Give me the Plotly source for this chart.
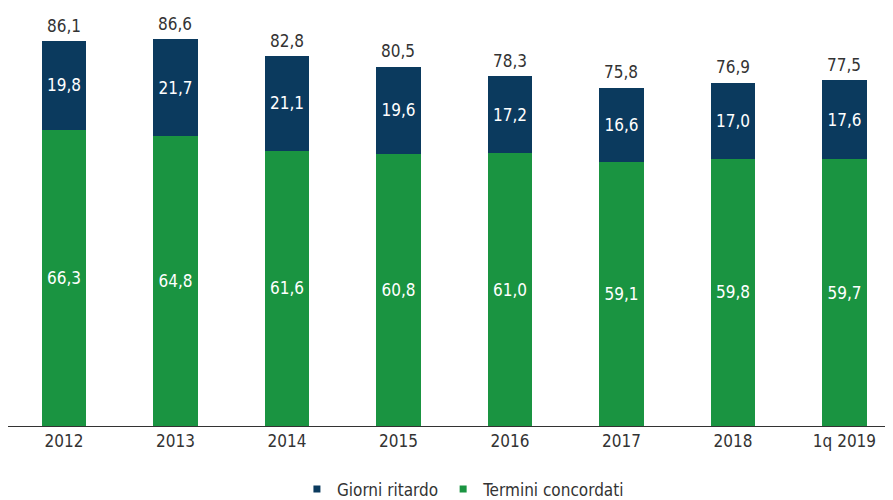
import plotly.graph_objects as go

categories = ["2012", "2013", "2014", "2015", "2016", "2017", "2018", "1q 2019"]
termini_concordati = [66.3, 64.8, 61.6, 60.8, 61.0, 59.1, 59.8, 59.7]
giorni_ritardo = [19.8, 21.7, 21.1, 19.6, 17.2, 16.6, 17.0, 17.6]
totali = [86.1, 86.6, 82.8, 80.5, 78.3, 75.8, 76.9, 77.5]

GREEN = "#1a9441"
NAVY = "#0b3a5e"
FONT = "Liberation Sans Narrow, Arial Narrow, DejaVu Sans Condensed, sans-serif"

def fmt(v):
    return f"{v:.1f}".replace(".", ",")

def tf(color, size=17):
    return dict(color=color, size=size, family=FONT)

fig = go.Figure()
fig.add_trace(go.Bar(
    x=categories, y=termini_concordati, name="Termini concordati",
    marker=dict(color=GREEN, line=dict(width=0)),
    text=[fmt(v) for v in termini_concordati], textposition="inside",
    insidetextanchor="middle", textfont=tf("white"),
    hoverinfo="skip", showlegend=False,
))
fig.add_trace(go.Bar(
    x=categories, y=giorni_ritardo, name="Giorni ritardo",
    marker=dict(color=NAVY, line=dict(width=0)),
    text=[fmt(v) for v in giorni_ritardo], textposition="inside",
    insidetextanchor="middle", textfont=tf("white"),
    hoverinfo="skip", showlegend=False,
))
# legend entries with small square symbols
for name, col in [("Giorni ritardo", NAVY), ("Termini concordati", GREEN)]:
    fig.add_trace(go.Scatter(
        x=[None], y=[None], mode="markers", name=name,
        marker=dict(symbol="square", size=7, color=col),
        hoverinfo="skip",
    ))

# totals above the bars (category index used as position on the category axis)
for i, t in enumerate(totali):
    fig.add_annotation(x=i, y=t, xref="x", yref="y", text=fmt(t), showarrow=False,
                       yanchor="bottom", yshift=3, font=tf("#333333"))

fig.update_layout(
    width=893, height=500,
    margin=dict(l=0, r=0, t=0, b=82, autoexpand=False),
    barmode="stack", bargap=0.6,
    plot_bgcolor="white", paper_bgcolor="white",
    font=tf("#333333"),
    showlegend=True,
    legend=dict(orientation="h", x=0.51, xanchor="center", y=-0.109, yanchor="top",
                traceorder="normal", font=tf("#333333"), itemwidth=30),
)
fig.update_xaxes(
    type="category",
    range=[-0.502, 7.507], showline=True, linecolor="#333333", linewidth=1,
    showgrid=False, ticks="", tickfont=tf("#333333"),
    fixedrange=True, automargin=False,
)
fig.update_yaxes(range=[0, 93.5], visible=False, showgrid=False, fixedrange=True, automargin=False)

fig.write_html("out.html")
